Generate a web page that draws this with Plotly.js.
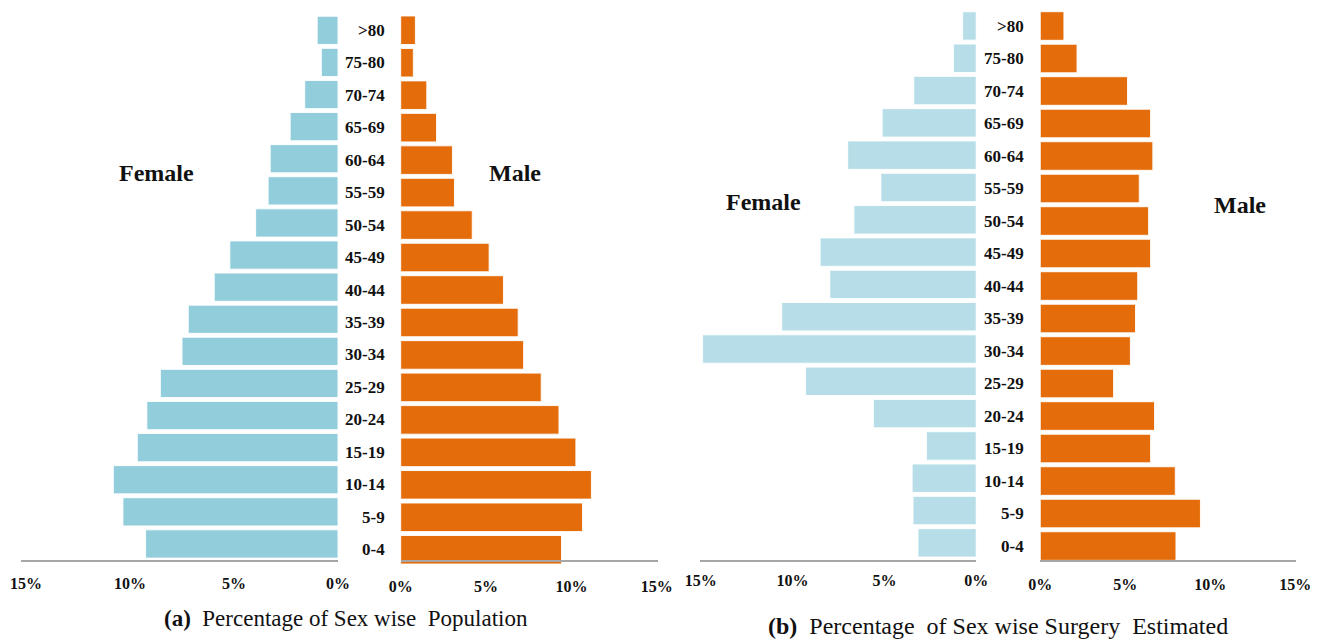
<!DOCTYPE html>
<html>
<head>
<meta charset="utf-8">
<script src="https://cdn.plot.ly/plotly-3.0.1.min.js"></script>
<style>html,body{margin:0;padding:0;background:#fff;}#chart{width:1321px;height:640px;}</style>
</head>
<body>
<div id="chart"></div>
<script>
// Age groups, bottom to top
const ageGroups = ['0-4','5-9','10-14','15-19','20-24','25-29','30-34','35-39','40-44','45-49','50-54','55-59','60-64','65-69','70-74','75-80','>80'];
// (a) Percentage of Sex wise Population
const femalePopulation = [9.25,10.34,10.8,9.65,9.19,8.54,7.5,7.2,5.95,5.2,3.96,3.36,3.26,2.3,1.6,0.8,1.0];
const malePopulation   = [9.42,10.65,11.17,10.26,9.27,8.23,7.2,6.88,6.02,5.18,4.19,3.15,3.03,2.1,1.53,0.74,0.86];
// (b) Percentage of Sex wise Surgery Estimated
const femaleSurgery = [3.17,3.44,3.49,2.71,5.6,9.3,14.9,10.59,7.97,8.5,6.66,5.19,7.0,5.12,3.4,1.24,0.74];
const maleSurgery   = [7.98,9.42,7.94,6.49,6.72,4.31,5.3,5.6,5.73,6.49,6.37,5.82,6.62,6.49,5.13,2.16,1.39];
// axis ticks
const tickValues = [0,5,10,15];
const tickLabels = ['0%','5%','10%','15%'];
const captionA = '<b>(a)</b>\u00a0 Percentage of Sex wise\u00a0 Population';
const captionB = '<b>(b)</b>\u00a0 Percentage\u00a0 of Sex wise Surgery\u00a0 Estimated';

const W = 1321, H = 640;
const px = v => v / W;
const py = v => 1 - v / H;

const FEMALE_A = '#92CDDC', FEMALE_B = '#B7DEE8', MALE = '#E46C0A';
const serif = 'Liberation Serif, Times New Roman, serif';

function bar(x, color, xa, ya) {
  return {type:'bar', orientation:'h', x:x, y:ageGroups, xaxis:xa, yaxis:ya,
    marker:{color:color, line:{color:'rgba(255,255,255,0.9)', width:1}},
    hoverinfo:'x+y', showlegend:false};
}
const data = [
  bar(femalePopulation, FEMALE_A, 'x', 'y'),
  bar(malePopulation, MALE, 'x2', 'y2'),
  bar(femaleSurgery, FEMALE_B, 'x3', 'y3'),
  bar(maleSurgery, MALE, 'x4', 'y4')
];

function xax(d0, d1, range, standoff) {
  return {domain:[px(d0), px(d1)], range:range, showgrid:false, zeroline:false,
    showline:true, linecolor:'#A6A6A6', linewidth:2,
    tickmode:'array', tickvals:tickValues, ticktext:tickLabels, ticks:'',
    ticklabelstandoff:standoff,
    tickfont:{family:serif, size:16, color:'#111', weight:'bold'}, fixedrange:true};
}
function yax(top, bottom) {
  return {domain:[py(bottom), py(top)], type:'category', categoryorder:'array', categoryarray:ageGroups,
    range:[-0.5, 16.5], showticklabels:false, showgrid:false, zeroline:false, showline:false, ticks:'', fixedrange:true};
}

const annotations = [];
ageGroups.forEach(a => {
  annotations.push({xref:'paper', yref:'y2', x:px(387), y:a, text:'<b>'+a+'</b>', showarrow:false,
    xanchor:'right', yanchor:'middle', font:{family:serif, size:17, color:'#111'}});
  annotations.push({xref:'paper', yref:'y4', x:px(1026), y:a, text:'<b>'+a+'</b>', showarrow:false,
    xanchor:'right', yanchor:'middle', font:{family:serif, size:17, color:'#111'}});
});
function lab(x, y, t, size, anchor) {
  annotations.push({xref:'paper', yref:'paper', x:px(x), y:py(y), text:t, showarrow:false,
    xanchor:anchor||'center', yanchor:'middle', font:{family:serif, size:size, color:'#111'}});
}
lab(156, 173, '<b>Female</b>', 24);
lab(515, 173, '<b>Male</b>', 24);
lab(763, 202, '<b>Female</b>', 24);
lab(1240, 205, '<b>Male</b>', 24);
lab(346, 618, captionA, 23);
lab(998, 626, captionB, 24);

const layout = {
  width:W, height:H, margin:{l:0, r:0, t:0, b:0}, paper_bgcolor:'#fff', plot_bgcolor:'rgba(0,0,0,0)',
  bargap:0.12, showlegend:false,
  xaxis: xax(21, 338, [15.24, 0], 8),
  yaxis: yax(14.3, 560),
  xaxis2: xax(400.7, 658, [0, 15.07], 11),
  yaxis2: yax(14, 566),
  xaxis3: xax(700, 976.2, [15.04, 0], 5),
  yaxis3: yax(9.8, 559),
  xaxis4: xax(1040.3, 1296, [0, 15.04], 9),
  yaxis4: yax(9.75, 562.3),
  annotations: annotations
};
Plotly.newPlot('chart', data, layout, {displayModeBar:false, staticPlot:true});
</script>
</body>
</html>
